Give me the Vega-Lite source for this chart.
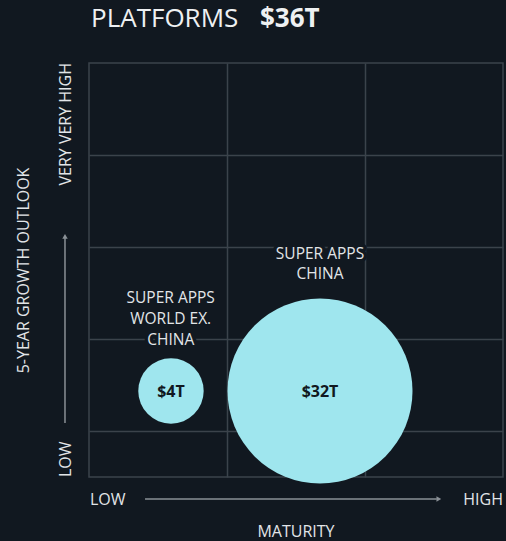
{
  "$schema": "https://vega.github.io/schema/vega-lite/v6.json",
  "width": 414,
  "height": 414,
  "autosize": "none",
  "padding": {"left": 89, "top": 63, "right": 3, "bottom": 64},
  "background": "#111820",
  "config": {
    "view": {"stroke": "#3b434b", "strokeWidth": 1.5},
    "font": "Open Sans",
    "text": {"font": "Open Sans", "color": "#e2e5e8"}
  },
  "layer": [
    {
      "data": {
        "values": [
          {"segment": "Super apps world ex. China", "maturity": 0.594, "growth": 0.935, "value": 4, "label": "$4T"},
          {"segment": "Super apps China", "maturity": 1.674, "growth": 0.935, "value": 32, "label": "$32T"}
        ]
      },
      "mark": {"type": "circle", "opacity": 1, "color": "#9fe6ee"},
      "encoding": {
        "x": {
          "field": "maturity", "type": "quantitative",
          "scale": {"domain": [0, 3], "nice": false, "zero": false},
          "axis": {"values": [1, 2], "grid": true, "gridColor": "#3b434b", "gridWidth": 1.5, "labels": false, "ticks": false, "domain": false, "title": null}
        },
        "y": {
          "field": "growth", "type": "quantitative",
          "scale": {"domain": [0, 4.5], "nice": false, "zero": false},
          "axis": {"values": [0.5, 1.5, 2.5, 3.5], "grid": true, "gridColor": "#3b434b", "gridWidth": 1.5, "labels": false, "ticks": false, "domain": false, "title": null}
        },
        "size": {"field": "value", "type": "quantitative", "scale": {"type": "linear", "domain": [0, 32], "range": [0, 34225]}, "legend": null}
      }
    },
    {
      "data": {
        "values": [
          {"segment": "Super apps world ex. China", "maturity": 0.594, "growth": 0.935, "label": "$4T"},
          {"segment": "Super apps China", "maturity": 1.674, "growth": 0.935, "label": "$32T"}
        ]
      },
      "mark": {"type": "text", "fontWeight": "bold", "fontSize": 16, "color": "#111820", "baseline": "middle", "dy": 1},
      "encoding": {
        "x": {"field": "maturity", "type": "quantitative"},
        "y": {"field": "growth", "type": "quantitative"},
        "text": {"field": "label"}
      }
    },
    {
      "data": {"values": [{}]},
      "mark": {"type": "text", "fontSize": 15.5, "lineHeight": 21, "baseline": "top", "align": "center", "fill": "#111820", "stroke": "#111820", "strokeWidth": 7, "strokeJoin": "round"},
      "encoding": {"x": {"datum": 0.592, "type": "quantitative"}, "y": {"datum": 2.024, "type": "quantitative"}, "text": {"value": ["SUPER APPS", "WORLD EX.", "CHINA"]}}
    },
    {
      "data": {"values": [{}]},
      "mark": {"type": "text", "fontSize": 15.5, "lineHeight": 21, "baseline": "top", "align": "center"},
      "encoding": {"x": {"datum": 0.592, "type": "quantitative"}, "y": {"datum": 2.024, "type": "quantitative"}, "text": {"value": ["SUPER APPS", "WORLD EX.", "CHINA"]}}
    },
    {
      "data": {"values": [{}]},
      "mark": {"type": "text", "fontSize": 15.5, "lineHeight": 20, "baseline": "top", "align": "center", "fill": "#111820", "stroke": "#111820", "strokeWidth": 7, "strokeJoin": "round"},
      "encoding": {"x": {"datum": 1.674, "type": "quantitative"}, "y": {"datum": 2.495, "type": "quantitative"}, "text": {"value": ["SUPER APPS", "CHINA"]}}
    },
    {
      "data": {"values": [{}]},
      "mark": {"type": "text", "fontSize": 15.5, "lineHeight": 20, "baseline": "top", "align": "center"},
      "encoding": {"x": {"datum": 1.674, "type": "quantitative"}, "y": {"datum": 2.495, "type": "quantitative"}, "text": {"value": ["SUPER APPS", "CHINA"]}}
    },
    {
      "data": {"values": [{}]},
      "mark": {"type": "text", "fontSize": 26, "baseline": "alphabetic", "align": "left", "color": "#eef0f2"},
      "encoding": {"x": {"datum": 0.0145, "type": "quantitative"}, "y": {"datum": 4.888, "type": "quantitative"}, "text": {"value": "PLATFORMS"}}
    },
    {
      "data": {"values": [{}]},
      "mark": {"type": "text", "fontSize": 26, "fontWeight": "bold", "baseline": "alphabetic", "align": "left", "color": "#eef0f2"},
      "encoding": {"x": {"datum": 1.239, "type": "quantitative"}, "y": {"datum": 4.888, "type": "quantitative"}, "text": {"value": "$36T"}}
    },
    {
      "data": {"values": [{}]},
      "mark": {"type": "text", "fontSize": 16, "baseline": "middle", "align": "center", "angle": 270},
      "encoding": {"x": {"datum": -0.471, "type": "quantitative"}, "y": {"datum": 2.245, "type": "quantitative"}, "text": {"value": "5-YEAR GROWTH OUTLOOK"}}
    },
    {
      "data": {"values": [{}]},
      "mark": {"type": "text", "fontSize": 16, "baseline": "middle", "align": "right", "angle": 270},
      "encoding": {"x": {"datum": -0.165, "type": "quantitative"}, "y": {"datum": 4.5, "type": "quantitative"}, "text": {"value": "VERY VERY HIGH"}}
    },
    {
      "data": {"values": [{}]},
      "mark": {"type": "text", "fontSize": 16, "baseline": "middle", "align": "left", "angle": 270},
      "encoding": {"x": {"datum": -0.165, "type": "quantitative"}, "y": {"datum": 0, "type": "quantitative"}, "text": {"value": "LOW"}}
    },
    {
      "data": {"values": [{}]},
      "mark": {"type": "text", "fontSize": 16, "baseline": "middle", "align": "left"},
      "encoding": {"x": {"datum": 0.007, "type": "quantitative"}, "y": {"datum": -0.25, "type": "quantitative"}, "text": {"value": "LOW"}}
    },
    {
      "data": {"values": [{}]},
      "mark": {"type": "text", "fontSize": 16, "baseline": "middle", "align": "right"},
      "encoding": {"x": {"datum": 3, "type": "quantitative"}, "y": {"datum": -0.25, "type": "quantitative"}, "text": {"value": "HIGH"}}
    },
    {
      "data": {"values": [{}]},
      "mark": {"type": "text", "fontSize": 16, "baseline": "middle", "align": "center"},
      "encoding": {"x": {"datum": 1.5, "type": "quantitative"}, "y": {"datum": -0.603, "type": "quantitative"}, "text": {"value": "MATURITY"}}
    },
    {
      "data": {"values": [{}]},
      "mark": {"type": "rule", "color": "#8a9096", "strokeWidth": 1.5},
      "encoding": {"x": {"datum": 0.406, "type": "quantitative"}, "x2": {"datum": 2.52}, "y": {"datum": -0.239, "type": "quantitative"}}
    },
    {
      "data": {"values": [{}]},
      "mark": {"type": "point", "shape": "triangle-right", "filled": true, "size": 30, "color": "#8a9096", "opacity": 1},
      "encoding": {"x": {"datum": 2.535, "type": "quantitative"}, "y": {"datum": -0.239, "type": "quantitative"}}
    },
    {
      "data": {"values": [{}]},
      "mark": {"type": "rule", "color": "#8a9096", "strokeWidth": 1.5},
      "encoding": {"x": {"datum": -0.174, "type": "quantitative"}, "y": {"datum": 0.587, "type": "quantitative"}, "y2": {"datum": 2.6}}
    },
    {
      "data": {"values": [{}]},
      "mark": {"type": "point", "shape": "triangle-up", "filled": true, "size": 30, "color": "#8a9096", "opacity": 1},
      "encoding": {"x": {"datum": -0.174, "type": "quantitative"}, "y": {"datum": 2.615, "type": "quantitative"}}
    }
  ]
}
